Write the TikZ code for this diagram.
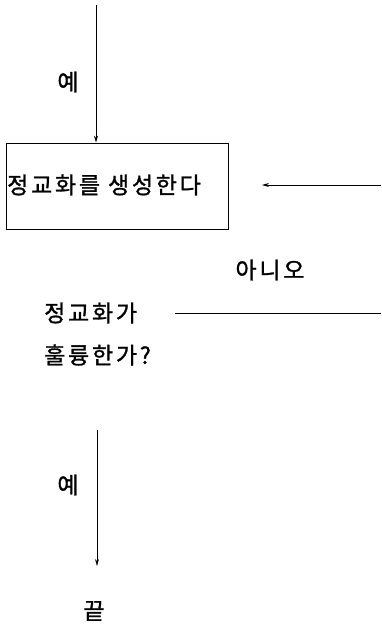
\documentclass[tikz,border=0pt]{standalone}
\usepackage{fontspec}
\newfontfamily\kr[LetterSpace=12,FakeBold=1.2]{Noto Sans CJK KR}
\usetikzlibrary{arrows.meta}
\begin{document}
\begin{tikzpicture}[x=1pt,y=-1pt,
  lbl/.style={inner sep=0pt,font=\kr\fontsize{23}{27}\selectfont},
  conn/.style={line width=0.8pt,-{Stealth[length=7pt,width=4pt]}},
  plain/.style={line width=0.8pt}]
\useasboundingbox (0,0) rectangle (381,627);
\coordinate (t0) at (96,5);
\node[draw,line width=0.8pt,minimum width=222pt,minimum height=86pt,inner sep=0pt] (box) at (117,186) {};
\node[lbl,anchor=west] (gen) at (7,185) {정교화를 생성한다};
\node[lbl] (yes1) at (68,82) {예};
\draw[conn] (t0) -- (box.north -| t0);
\coordinate (r0) at (381,185);
\coordinate (r1) at (262,185);
\draw[conn] (r0) -- (r1);
\node[lbl] (no) at (270,270) {아니오};
\node[lbl,anchor=west] (q1) at (44,313) {정교화가};
\node[lbl,anchor=west] (q2) at (44,355) {훌륭한가?};
\coordinate (l0) at (175,313);
\coordinate (l1) at (381,313);
\draw[plain] (l0) -- (l1);
\coordinate (b0) at (97,430);
\node[lbl] (end) at (94,611) {끝};
\coordinate (b1) at (97,566);
\draw[conn] (b0) -- (b1);
\node[lbl] (yes2) at (68,485) {예};
\end{tikzpicture}
\end{document}
